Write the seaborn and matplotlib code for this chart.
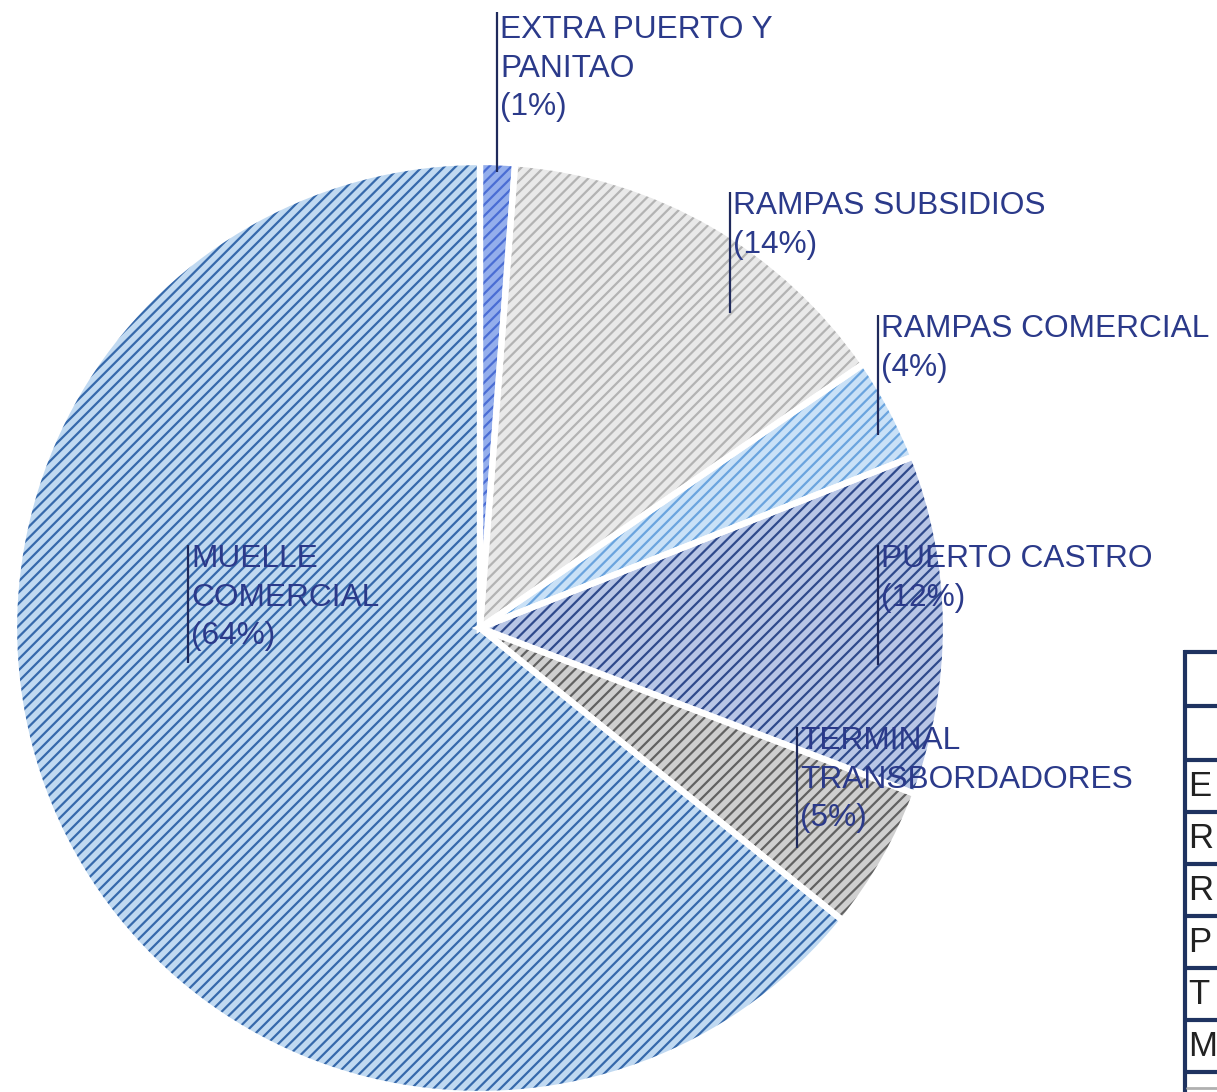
import matplotlib
matplotlib.use("Agg")
import matplotlib.pyplot as plt
import seaborn as sns

# ---- data ----
categories = ["EXTRA PUERTO Y\nPANITAO", "RAMPAS SUBSIDIOS", "RAMPAS COMERCIAL",
              "PUERTO CASTRO", "TERMINAL\nTRANSBORDADORES", "MUELLE\nCOMERCIAL"]
values = [1.2, 14.2, 3.6, 11.8, 5.0, 64.2]
pct_labels = ["1%", "14%", "4%", "12%", "5%", "64%"]
table_rows = ["E", "R", "R", "P", "T", "M"]

face_colors = ["#94aeec", "#e9e9e9", "#c9e1f7", "#b8c6e6", "#cfcfcf", "#c0d9f1"]
hatch_colors = ["#4a6dd4", "#b3b3b3", "#6aa4de", "#2f4a8c", "#626262", "#3669ab"]

sns.set_theme(style="white")
plt.rcParams["font.family"] = ["Liberation Sans", "DejaVu Sans"]
plt.rcParams["hatch.linewidth"] = 1.6

W, H = 1217, 1092
fig = plt.figure(figsize=(W / 100, H / 100), dpi=100)
fig.patch.set_facecolor("white")

cx, cy, R = 480, 628, 466
ax = fig.add_axes([(cx - R) / W, 1 - (cy + R) / H, 2 * R / W, 2 * R / H])

common = dict(startangle=90, counterclock=False, radius=1.0)
w1, _ = ax.pie(values, colors=face_colors, wedgeprops=dict(linewidth=0), **common)
w2, _ = ax.pie(values, wedgeprops=dict(linewidth=0, fill=False), **common)
for w, hc in zip(w2, hatch_colors):
    w.set_hatch("///")
    w.set_edgecolor(hc)
    w.set_linewidth(0)
w3, _ = ax.pie(values, wedgeprops=dict(linewidth=4.5, fill=False, edgecolor="white"), **common)
for w in w1 + w2 + w3:
    w.set_clip_on(False)
ax.set_xlim(-1, 1)
ax.set_ylim(-1, 1)
ax.set_aspect("equal")
ax.axis("off")

# ---- overlay in pixel coordinates ----
ov = fig.add_axes([0, 0, 1, 1])
ov.set_xlim(0, W)
ov.set_ylim(H, 0)
ov.axis("off")
ov.patch.set_alpha(0)

label_pos = [  # (line x, line top, line bottom, cap top)
    (497, 12, 172, 15),
    (730, 192, 313, 191),
    (878, 315, 435, 314),
    (878, 545, 665, 544),
    (797, 727, 848, 726),
    (188, 545, 663, 544),
]
text_color = "#2b3a8a"
for cat, pct, (lx, t, b, ct) in zip(categories, pct_labels, label_pos):
    ov.plot([lx, lx], [t, b], color="#1f2a5c", lw=1.6, solid_capstyle="butt")
    ov.text(lx + 3, ct, f"{cat}\n({pct})", color=text_color, fontsize=22.8,
            ha="left", va="top", linespacing=1.37)

# ---- partial table at right edge ----
tcol = "#1f3360"
tx = 1185
hlines = [652, 706, 760, 812, 864, 916, 968, 1020, 1072]
ov.plot([tx, tx], [650, H], color=tcol, lw=3, solid_capstyle="butt")
for y in hlines:
    ov.plot([tx - 1.5, W + 5], [y, y], color=tcol, lw=3, solid_capstyle="butt")
ov.plot([tx + 2, W], [1088, 1088], color="#b0b0b0", lw=2)
for i, name in enumerate(table_rows):
    yc = (hlines[i + 2] + hlines[i + 3]) / 2 if i + 3 < len(hlines) else hlines[i + 2] + 26
    ov.text(tx + 3, yc + 1, name, fontsize=25, color="#222222", ha="left", va="center")

fig.savefig("out.png", dpi=100, facecolor="white")
